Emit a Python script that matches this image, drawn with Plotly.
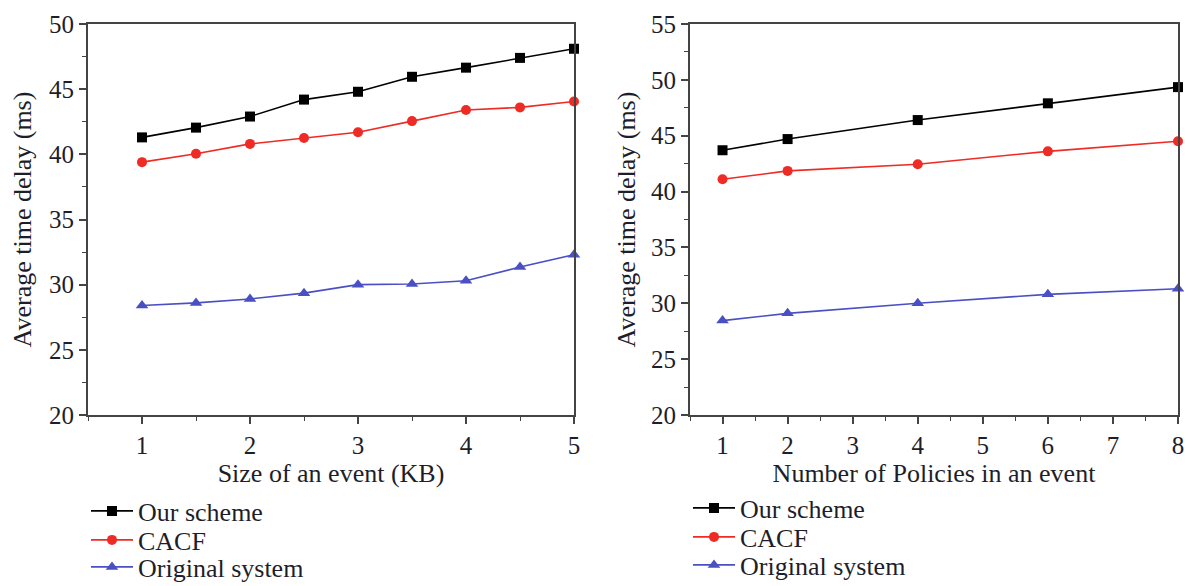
import plotly.graph_objects as go

# Left panel: size of an event (KB)
size_kb = [1, 1.5, 2, 2.5, 3, 3.5, 4, 4.5, 5]
left_ours = [41.3, 42.05, 42.9, 44.2, 44.8, 45.95, 46.65, 47.4, 48.1]
left_cacf = [39.4, 40.05, 40.8, 41.25, 41.7, 42.55, 43.4, 43.6, 44.05]
left_orig = [28.4, 28.6, 28.9, 29.35, 30.0, 30.05, 30.3, 31.35, 32.3]

# Right panel: number of policies in an event
policies = [1, 2, 4, 6, 8]
right_ours = [43.7, 44.7, 46.4, 47.9, 49.35]
right_cacf = [41.1, 41.85, 42.45, 43.6, 44.5]
right_orig = [28.45, 29.1, 30.0, 30.8, 31.3]

series_names = ["Our scheme", "CACF", "Original system"]
colors = ["#000000", "#ee2b24", "#4a50c4"]
symbols = ["square", "circle", "triangle-up"]

FONT = "Liberation Serif"
TXT = "#1e1e2a"
OFF = 8  # default page body margin
W, H = 1192 - OFF, 586 - OFF


def fx(px):
    return (px - OFF) / W


def fy(py):
    return 1 - (py - OFF) / H


fig = go.Figure()

left_data = [left_ours, left_cacf, left_orig]
right_data = [right_ours, right_cacf, right_orig]

# one legend per row so row spacing can match the reference
left_rows_y = [511, 540, 567]
right_rows_y = [508, 537, 565]

legends = {}
k = 1
for name, ys, c, s, ry in zip(series_names, left_data, colors, symbols, left_rows_y):
    lname = "legend" if k == 1 else f"legend{k}"
    fig.add_trace(go.Scatter(
        x=size_kb, y=ys, name=name, mode="lines+markers",
        line=dict(color=c, width=1.6),
        marker=dict(color=c, symbol=s, size=10 if s != "triangle-up" else 11),
        xaxis="x", yaxis="y", legend=lname, cliponaxis=False))
    legends[lname] = (86, ry)
    k += 1
for name, ys, c, s, ry in zip(series_names, right_data, colors, symbols, right_rows_y):
    lname = f"legend{k}"
    fig.add_trace(go.Scatter(
        x=policies, y=ys, name=name, mode="lines+markers",
        line=dict(color=c, width=1.6),
        marker=dict(color=c, symbol=s, size=10 if s != "triangle-up" else 11),
        xaxis="x2", yaxis="y2", legend=lname, cliponaxis=False))
    legends[lname] = (688, ry)
    k += 1

tickfont = dict(family=FONT, size=25, color=TXT)
titlefont = dict(family=FONT, size=26, color=TXT)
axcol = "#444444"

common_x = dict(showline=True, linecolor=axcol, linewidth=2, mirror=True,
                ticks="outside", ticklen=7, tickwidth=1.5, tickcolor=axcol,
                showgrid=False, zeroline=False, tickfont=tickfont, automargin=False,
                ticklabeloverflow="allow")
common_y = dict(showline=True, linecolor=axcol, linewidth=2, mirror=True,
                ticks="outside", ticklen=7, tickwidth=1.5, tickcolor=axcol,
                showgrid=False, zeroline=False, tickfont=tickfont, dtick=5, automargin=False,
                ticklabeloverflow="allow",
                minor=dict(dtick=2.5, ticks="outside", ticklen=4, tickcolor=axcol, tickwidth=1.2))

layout = dict(
    width=W, height=H,
    margin=dict(l=0, r=0, t=0, b=0, autoexpand=False),
    paper_bgcolor="white", plot_bgcolor="white",
    xaxis=dict(domain=[fx(88), fx(574)], range=[0.5, 5], anchor="y", dtick=1,
               minor=dict(dtick=0.5, ticks="outside", ticklen=4, tickcolor=axcol, tickwidth=1.2),
               title=dict(text="Size of an event (KB)", font=titlefont, standoff=4),
               **common_x),
    yaxis=dict(domain=[fy(415), fy(24)], range=[20, 50], anchor="x",
               title=dict(text="Average time delay (ms)", font=titlefont, standoff=12),
               **common_y),
    xaxis2=dict(domain=[fx(690), fx(1178)], range=[0.5, 8], anchor="y2", dtick=1,
                minor=dict(dtick=0.5, ticks="outside", ticklen=4, tickcolor=axcol, tickwidth=1.2),
                title=dict(text="Number of Policies in an event", font=titlefont, standoff=4),
                **common_x),
    yaxis2=dict(domain=[fy(415), fy(24)], range=[20, 55], anchor="x2",
                title=dict(text="Average time delay (ms)", font=titlefont, standoff=8),
                **common_y),
    yaxis3=dict(overlaying="y", side="right", anchor="x", range=[20, 50], dtick=5,
                ticks="inside", ticklen=7, tickwidth=1.5, tickcolor=axcol, automargin=False,
                showticklabels=False, showgrid=False, zeroline=False,
                minor=dict(dtick=2.5, ticks="inside", ticklen=4, tickcolor=axcol, tickwidth=1.2)),
    yaxis4=dict(overlaying="y2", side="right", anchor="x2", range=[20, 55], dtick=5,
                ticks="inside", ticklen=7, tickwidth=1.5, tickcolor=axcol, automargin=False,
                showticklabels=False, showgrid=False, zeroline=False,
                minor=dict(dtick=2.5, ticks="inside", ticklen=4, tickcolor=axcol, tickwidth=1.2)),
    showlegend=True,
)
for lname, (px, py) in legends.items():
    layout[lname] = dict(x=fx(px), xanchor="left", y=fy(py), yanchor="middle",
                         font=dict(family=FONT, size=26, color=TXT),
                         bgcolor="rgba(0,0,0,0)", itemwidth=42, borderwidth=0)
fig.update_layout(**layout)

fig.write_html("out.html")
